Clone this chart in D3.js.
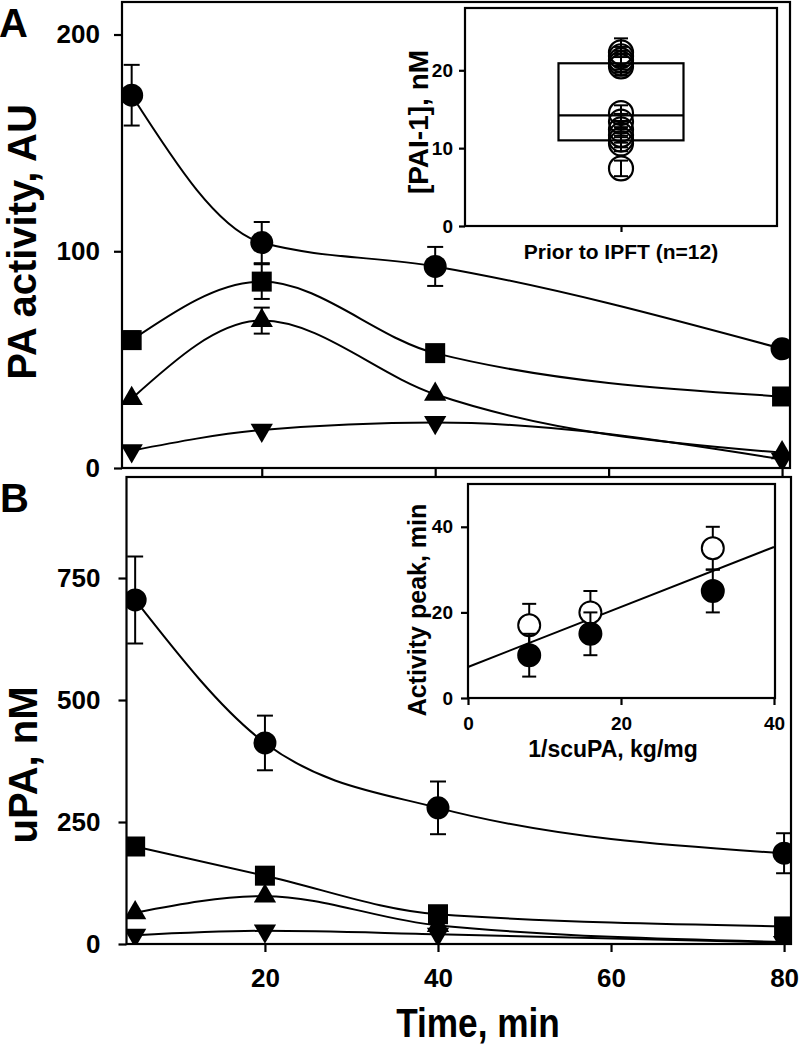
<!DOCTYPE html>
<html><head><meta charset="utf-8">
<script src="https://cdn.jsdelivr.net/npm/d3@7"></script>
<style>
body{margin:0;background:#fff}
svg{display:block}
text{font-family:"Liberation Sans",Arial,Helvetica,sans-serif;font-weight:bold;fill:#000}
</style>
</head><body><svg id="c" width="800" height="1049"></svg>
<script>
// ---------- data ----------
const times = [5, 20, 40, 80];
const xTicks = [20, 40, 60, 80];

// Panel A: PA activity, AU
const paCircle = [172, 104, 93, 55];
const paCircleErr = [14, 9.5, 9, 0];
const paSquare = [59, 86, 53, 33];
const paSquareErr = [4, 8, 0, 0];
const paTriUp = [32, 68, 34, 7];
const paTriUpErr = [0, 6, 0, 0];
const paTriDown = [8, 17.5, 21, 4];
const paTriDownErr = [0, 0, 0, 0];
const aYTicks = [0, 100, 200];

// Panel B: uPA, nM
const upaCircle = [705, 412, 279, 186];
const upaCircleErr = [89, 56, 54, 41];
const upaSquare = [200, 140, 61, 36];
const upaSquareErr = [0, 0, 0, 0];
const upaTriUp = [64, 98, 38, 4];
const upaTriUpErr = [0, 0, 0, 0];
const upaTriDown = [18, 27, 20, 3];
const upaTriDownErr = [0, 0, 0, 0];
const bYTicks = [0, 250, 500, 750];

// Inset A: [PAI-1] prior to IPFT (n=12)
const pai1Category = ["Prior to IPFT (n=12)"];
const pai1Values = [7.4, 10.6, 11.1, 11.7, 12.4, 13.4, 14.5, 20.5, 20.9, 21.3, 21.8, 22.3];
const pai1Err = [1.0, 1.0, 1.0, 1.0, 1.0, 1.0, 1.0, 1.2, 1.2, 1.2, 1.2, 1.8];
const pai1BoxQ1 = [11.0];
const pai1BoxMedian = [14.2];
const pai1BoxQ3 = [20.9];
const insetAYTicks = [0, 10, 20];

// Inset B: activity peak vs 1/scuPA
const scuInv = [8, 16, 32];
const peakOpen = [17, 20, 35];
const peakOpenErr = [5, 5, 5];
const peakFilled = [10, 15, 25];
const peakFilledErr = [5, 5, 5];
const insetBXTicks = [0, 20, 40];
const insetBYTicks = [0, 20, 40];

// ---------- drawing ----------
const svg = d3.select("#c");
const LW = 2.2;

function clip(id, x0, y0, x1, y1) {
  svg.append("clipPath").attr("id", id).append("rect")
    .attr("x", x0).attr("y", y0).attr("width", x1 - x0).attr("height", y1 - y0);
}

function symbolPath(type) {
  if (type === "circle") return d3.symbol(d3.symbolCircle, Math.PI * 11.5 * 11.5)();
  if (type === "square") return d3.symbol(d3.symbolSquare, 20 * 20)();
  return d3.symbol(d3.symbolTriangle, 215)();
}

function drawSeries(g, x, y, xs, ys, errs, type) {
  const pts = xs.map((t, i) => ({t, v: ys[i], e: errs[i]}));
  g.append("path").datum(pts)
    .attr("fill", "none").attr("stroke", "#000").attr("stroke-width", 2)
    .attr("d", d3.line().x(d => x(d.t)).y(d => y(d.v)).curve(d3.curveMonotoneX));
  const eb = g.append("g").attr("stroke", "#000").attr("stroke-width", 2);
  pts.filter(d => d.e > 0).forEach(d => {
    eb.append("line").attr("x1", x(d.t)).attr("x2", x(d.t)).attr("y1", y(d.v - d.e)).attr("y2", y(d.v + d.e));
    [d.v - d.e, d.v + d.e].forEach(v => eb.append("line")
      .attr("x1", x(d.t) - 8).attr("x2", x(d.t) + 8).attr("y1", y(v)).attr("y2", y(v)));
  });
  g.selectAll(null).data(pts).enter().append("path")
    .attr("d", symbolPath(type === "down" ? "tri" : type))
    .attr("transform", d => `translate(${x(d.t)},${y(d.v)})` + (type === "down" ? " rotate(180)" : ""))
    .attr("fill", "#000");
}

function styleAxis(g, fs) {
  g.select(".domain").remove();
  g.selectAll(".tick line").attr("stroke", "#000").attr("stroke-width", LW);
  g.selectAll(".tick text").attr("font-size", fs).attr("fill", "#000")
    .attr("font-family", "Liberation Sans, Arial, sans-serif").attr("font-weight", "bold");
}

// ===== Panel A =====
const A = {l: 122, r: 790, t: 2, b: 468};
const xA = d3.scaleLinear().domain([4, 80.8]).range([123, 789]);
const yA = d3.scaleLinear().domain([0, 215]).range([A.b, A.t]);
clip("clipA", A.l, A.t, A.r, A.b);

svg.append("g").attr("transform", `translate(${A.l},0)`)
  .call(d3.axisLeft(yA).tickValues(aYTicks).tickSize(8).tickPadding(14))
  .call(g => styleAxis(g, 26));
svg.append("g").attr("transform", `translate(0,${A.b})`)
  .call(d3.axisBottom(xA).tickValues(xTicks).tickSize(8).tickFormat(""))
  .call(g => styleAxis(g, 26));

const gA = svg.append("g").attr("clip-path", "url(#clipA)");
drawSeries(gA, xA, yA, times, paTriDown, paTriDownErr, "down");
drawSeries(gA, xA, yA, times, paTriUp, paTriUpErr, "tri");
drawSeries(gA, xA, yA, times, paSquare, paSquareErr, "square");
drawSeries(gA, xA, yA, times, paCircle, paCircleErr, "circle");

svg.append("rect").attr("x", A.l).attr("y", A.t).attr("width", A.r - A.l).attr("height", A.b - A.t)
  .attr("fill", "none").attr("stroke", "#000").attr("stroke-width", LW);

svg.append("text").attr("x", -1).attr("y", 37).attr("font-size", 40).text("A");
svg.append("text").attr("transform", "translate(36,242) rotate(-90)")
  .attr("text-anchor", "middle").attr("font-size", 40).text("PA activity, AU");

// ===== Inset A =====
const IA = {l: 465, r: 777, t: 8, b: 226};
const xIA = d3.scalePoint().domain(pai1Category).range([IA.l, IA.r]).padding(0.5);
const yIA = d3.scaleLinear().domain([0, 28]).range([IA.b, IA.t]);
svg.append("rect").attr("x", IA.l).attr("y", IA.t).attr("width", IA.r - IA.l).attr("height", IA.b - IA.t)
  .attr("fill", "#fff").attr("stroke", "#000").attr("stroke-width", LW);
svg.append("g").attr("transform", `translate(${IA.l},0)`)
  .call(d3.axisLeft(yIA).tickValues(insetAYTicks).tickSize(6).tickPadding(6))
  .call(g => styleAxis(g, 19));
svg.append("g").attr("transform", `translate(0,${IA.b})`)
  .call(d3.axisBottom(xIA).tickSize(6).tickFormat(""))
  .call(g => styleAxis(g, 19));
const cx = xIA(pai1Category[0]);
const boxW = 125;
svg.append("rect").attr("x", cx - boxW / 2).attr("width", boxW)
  .attr("y", yIA(pai1BoxQ3[0])).attr("height", yIA(pai1BoxQ1[0]) - yIA(pai1BoxQ3[0]))
  .attr("fill", "none").attr("stroke", "#000").attr("stroke-width", LW);
svg.append("line").attr("x1", cx - boxW / 2).attr("x2", cx + boxW / 2)
  .attr("y1", yIA(pai1BoxMedian[0])).attr("y2", yIA(pai1BoxMedian[0]))
  .attr("stroke", "#000").attr("stroke-width", LW);
const gIA = svg.append("g");
pai1Values.forEach((v, i) => {
  gIA.append("circle").attr("cx", cx).attr("cy", yIA(v)).attr("r", 12)
    .attr("fill", "none").attr("stroke", "#000").attr("stroke-width", 2.2);
  const e = pai1Err[i];
  gIA.append("line").attr("x1", cx).attr("x2", cx).attr("y1", yIA(v - e)).attr("y2", yIA(v + e))
    .attr("stroke", "#000").attr("stroke-width", 2);
  [v - e, v + e].forEach(w => gIA.append("line").attr("x1", cx - 7).attr("x2", cx + 7)
    .attr("y1", yIA(w)).attr("y2", yIA(w)).attr("stroke", "#000").attr("stroke-width", 2));
});
svg.append("text").attr("x", cx).attr("y", 259).attr("text-anchor", "middle").attr("font-size", 21)
  .text(pai1Category[0]);
svg.append("text").attr("transform", "translate(428,122) rotate(-90)")
  .attr("text-anchor", "middle").attr("font-size", 28).text("[PAI-1], nM");

// ===== Panel B =====
const B = {l: 126.5, r: 791, t: 477, b: 944};
const xB = d3.scaleLinear().domain([4, 80.8]).range([B.l, B.r]);
const yB = d3.scaleLinear().domain([0, 957]).range([B.b, B.t]);
clip("clipB", B.l, B.t, B.r, B.b);

svg.append("g").attr("transform", `translate(${B.l},0)`)
  .call(d3.axisLeft(yB).tickValues(bYTicks).tickSize(8).tickPadding(18))
  .call(g => styleAxis(g, 26));
svg.append("g").attr("transform", `translate(0,${B.b})`)
  .call(d3.axisBottom(xB).tickValues(xTicks).tickSize(8).tickPadding(17))
  .call(g => styleAxis(g, 26));

const gB = svg.append("g").attr("clip-path", "url(#clipB)");
drawSeries(gB, xB, yB, times, upaTriDown, upaTriDownErr, "down");
drawSeries(gB, xB, yB, times, upaTriUp, upaTriUpErr, "tri");
drawSeries(gB, xB, yB, times, upaSquare, upaSquareErr, "square");
drawSeries(gB, xB, yB, times, upaCircle, upaCircleErr, "circle");

svg.append("rect").attr("x", B.l).attr("y", B.t).attr("width", B.r - B.l).attr("height", B.b - B.t)
  .attr("fill", "none").attr("stroke", "#000").attr("stroke-width", LW);

svg.append("text").attr("x", 0).attr("y", 512).attr("font-size", 40).text("B");
svg.append("text").attr("transform", "translate(37,765) rotate(-90)")
  .attr("text-anchor", "middle").attr("font-size", 40).text("uPA, nM");
svg.append("text").attr("transform", "translate(478,1037) scale(0.88,1)")
  .attr("text-anchor", "middle").attr("font-size", 40).text("Time, min");

// ===== Inset B =====
const IB = {l: 468, r: 775, t: 484, b: 698};
const xIB = d3.scaleLinear().domain([0, 40]).range([IB.l, 774]);
const yIB = d3.scaleLinear().domain([0, 50]).range([IB.b, IB.t]);
svg.append("rect").attr("x", IB.l).attr("y", IB.t).attr("width", IB.r - IB.l).attr("height", IB.b - IB.t)
  .attr("fill", "#fff").attr("stroke", "#000").attr("stroke-width", LW);
svg.append("g").attr("transform", `translate(${IB.l},0)`)
  .call(d3.axisLeft(yIB).tickValues(insetBYTicks).tickSize(7).tickPadding(8))
  .call(g => styleAxis(g, 19));
svg.append("g").attr("transform", `translate(0,${IB.b})`)
  .call(d3.axisBottom(xIB).tickValues(insetBXTicks).tickSize(7).tickPadding(12))
  .call(g => styleAxis(g, 19));

// least-squares fit through all peak points
const allX = scuInv.concat(scuInv), allY = peakOpen.concat(peakFilled);
const mx = d3.mean(allX), my = d3.mean(allY);
const slope = d3.sum(allX, (v, i) => (v - mx) * (allY[i] - my)) / d3.sum(allX, v => (v - mx) * (v - mx));
const icpt = my - slope * mx;
const fitX = xIB.domain();
svg.append("line").attr("x1", xIB(fitX[0])).attr("x2", xIB(fitX[1]))
  .attr("y1", yIB(icpt + slope * fitX[0])).attr("y2", yIB(icpt + slope * fitX[1]))
  .attr("stroke", "#000").attr("stroke-width", 2);

function insetBSeries(vals, errs, filled) {
  const g = svg.append("g");
  scuInv.forEach((xv, i) => {
    const v = vals[i], e = errs[i];
    g.append("line").attr("x1", xIB(xv)).attr("x2", xIB(xv)).attr("y1", yIB(v - e)).attr("y2", yIB(v + e))
      .attr("stroke", "#000").attr("stroke-width", 2);
    [v - e, v + e].forEach(w => g.append("line").attr("x1", xIB(xv) - 7).attr("x2", xIB(xv) + 7)
      .attr("y1", yIB(w)).attr("y2", yIB(w)).attr("stroke", "#000").attr("stroke-width", 2));
  });
  scuInv.forEach((xv, i) => {
    g.append("circle").attr("cx", xIB(xv)).attr("cy", yIB(vals[i])).attr("r", 11)
      .attr("fill", filled ? "#000" : "#fff").attr("stroke", "#000").attr("stroke-width", 2);
  });
}
insetBSeries(peakOpen, peakOpenErr, false);
insetBSeries(peakFilled, peakFilledErr, true);

svg.append("text").attr("x", 613).attr("y", 757).attr("text-anchor", "middle").attr("font-size", 23)
  .text("1/scuPA, kg/mg");
svg.append("text").attr("transform", "translate(426,610) rotate(-90)")
  .attr("text-anchor", "middle").attr("font-size", 25).text("Activity peak, min");
</script>
</body></html>
